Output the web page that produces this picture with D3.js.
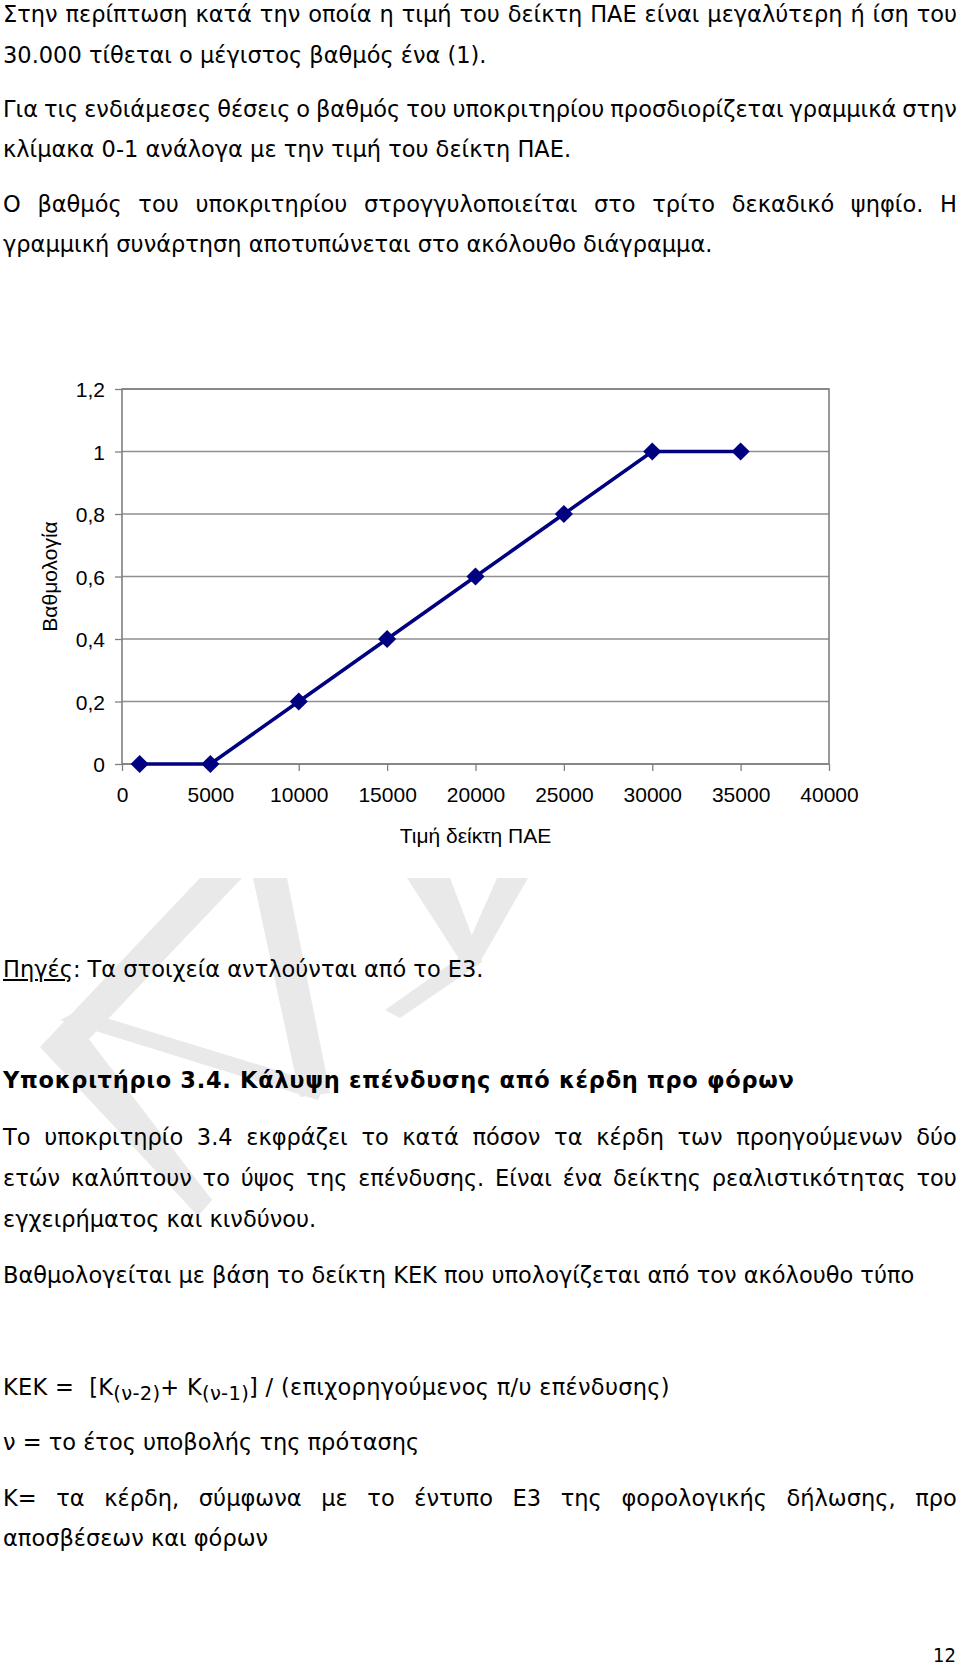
<!DOCTYPE html>
<html>
<head>
  <meta charset="utf-8">
  <script src="https://cdn.jsdelivr.net/npm/d3@7"></script>
  <style>
html, body {
  margin: 0;
  padding: 0;
  background: #fff;
}

#page {
  position: relative;
  width: 960px;
  height: 1669px;
  overflow: hidden;
}

#chart {
  position: absolute;
  left: 0;
  top: 0;
}

.line {
  position: absolute;
  left: 3px;
  width: 954px;
  font: 22.5px "DejaVu Sans", Verdana, sans-serif;
  line-height: 22px;
  color: #000;
  white-space: nowrap;
}

.line.just {
  display: flex;
  justify-content: space-between;
}

.line.bold {
  font-weight: bold;
  letter-spacing: 0.7px;
}

.line.formula {
  letter-spacing: 0.3px;
}

.line sub {
  font-size: 19.5px;
  vertical-align: -5px;
  line-height: 0;
}

#pagenum {
  position: absolute;
  right: 4px;
  font: 20px "DejaVu Sans Condensed", "DejaVu Sans", sans-serif;
  line-height: 14px;
}

.axis text {
  font: 21px "Liberation Sans", Arial, sans-serif;
  fill: #000;
}

.axis path {
  display: none;
}

.axis line {
  stroke: #808080;
  stroke-width: 1.3;
}
  </style>
</head>
<body>
  <div id="page">
    <svg id="chart" width="960" height="1669"></svg>
  </div>
  <script>
// Score curve: Τιμή δείκτη ΠΑΕ -> Βαθμολογία
var paeValues = [1000, 5000, 10000, 15000, 20000, 25000, 30000, 35000];
var scores = [0, 0, 0.2, 0.4, 0.6, 0.8, 1, 1];

var xTicks = [0, 5000, 10000, 15000, 20000, 25000, 30000, 35000, 40000];
var yTicks = [0, 0.2, 0.4, 0.6, 0.8, 1, 1.2];

var xTitle = "Τιμή δείκτη ΠΑΕ";
var yTitle = "Βαθμολογία";

// Page text, line by line (baseline y in px)
var textLines = [
  {y: 22, cls: "just", html: "Στην περίπτωση κατά την οποία η τιμή του δείκτη ΠΑΕ είναι μεγαλύτερη ή ίση του"},
  {y: 63, cls: "", html: "30.000 τίθεται ο μέγιστος βαθμός ένα (1)."},
  {y: 117, cls: "just", html: "Για τις ενδιάμεσες θέσεις ο βαθμός του υποκριτηρίου προσδιορίζεται γραμμικά στην"},
  {y: 157, cls: "", html: "κλίμακα 0-1 ανάλογα με την τιμή του δείκτη ΠΑΕ."},
  {y: 212, cls: "just", html: "Ο βαθμός του υποκριτηρίου στρογγυλοποιείται στο τρίτο δεκαδικό ψηφίο. Η"},
  {y: 252, cls: "", html: "γραμμική συνάρτηση αποτυπώνεται στο ακόλουθο διάγραμμα."},
  {y: 977, cls: "", html: "<u>Πηγές</u>: Τα στοιχεία αντλούνται από το Ε3."},
  {y: 1088, cls: "bold", html: "Υποκριτήριο 3.4. Κάλυψη επένδυσης από κέρδη προ φόρων"},
  {y: 1145, cls: "just", html: "Το υποκριτηρίο 3.4 εκφράζει το κατά πόσον τα κέρδη των προηγούμενων δύο"},
  {y: 1186, cls: "just", html: "ετών καλύπτουν το ύψος της επένδυσης. Είναι ένα δείκτης ρεαλιστικότητας του"},
  {y: 1227, cls: "", html: "εγχειρήματος και κινδύνου."},
  {y: 1283, cls: "", html: "Βαθμολογείται με βάση το δείκτη ΚΕΚ που υπολογίζεται από τον ακόλουθο τύπο"},
  {y: 1395, cls: "formula", html: "ΚΕΚ = &nbsp;[Κ<sub>(ν-2)</sub>+ Κ<sub>(ν-1)</sub>] / (επιχορηγούμενος π/υ επένδυσης)"},
  {y: 1450, cls: "", html: "ν = το έτος υποβολής της πρότασης"},
  {y: 1506, cls: "just", html: "Κ= τα κέρδη, σύμφωνα με το έντυπο Ε3 της φορολογικής δήλωσης, προ"},
  {y: 1546, cls: "", html: "αποσβέσεων και φόρων"}
];
var pageNumber = "12";

var svg = d3.select("#chart");
var page = d3.select("#page");

// Faint watermark behind the text
var watermark = [
  [[200, 878], [242, 878], [88, 1040], [40, 1047]],
  [[40, 1047], [88, 1038], [212, 1200], [198, 1216]],
  [[60, 1020], [80, 1010], [325, 1085], [318, 1100]],
  [[253, 878], [287, 878], [330, 1093], [300, 1097]],
  [[407, 878], [450, 878], [482, 962], [465, 968]],
  [[497, 878], [528, 878], [480, 962], [463, 955]],
  [[463, 955], [482, 962], [400, 1018], [385, 1010]]
];
svg.append("g")
  .selectAll("polygon")
  .data(watermark)
  .enter().append("polygon")
    .attr("points", function(d) { return d.map(function(p) { return p.join(","); }).join(" "); })
    .attr("fill", "#e9e9e9");

// Chart
var margin = {left: 122, right: 829, top: 389, bottom: 764};
var x = d3.scaleLinear().domain([0, 40000]).range([margin.left, margin.right]);
var y = d3.scaleLinear().domain([0, 1.2]).range([margin.bottom, margin.top]);

var grLocale = d3.formatLocale({decimal: ",", thousands: ".", grouping: [3], currency: ["", ""]});
var yFormat = grLocale.format(".1~f");
var xFormat = d3.format("d");

// Gridlines
svg.append("g")
  .attr("class", "grid")
  .selectAll("line")
  .data(yTicks)
  .enter().append("line")
    .attr("x1", margin.left)
    .attr("x2", margin.right)
    .attr("y1", function(d) { return y(d); })
    .attr("y2", function(d) { return y(d); })
    .attr("stroke", "#8f8f8f")
    .attr("stroke-width", 1.3);

// Plot frame
svg.append("rect")
  .attr("x", margin.left)
  .attr("y", margin.top)
  .attr("width", margin.right - margin.left)
  .attr("height", margin.bottom - margin.top)
  .attr("fill", "none")
  .attr("stroke", "#7f7f7f")
  .attr("stroke-width", 1.6);

var yAxis = svg.append("g")
  .attr("class", "axis")
  .attr("transform", "translate(" + margin.left + ",0)")
  .call(d3.axisLeft(y).tickValues(yTicks).tickSize(7).tickPadding(10).tickFormat(yFormat));

var xAxis = svg.append("g")
  .attr("class", "axis")
  .attr("transform", "translate(0," + margin.bottom + ")")
  .call(d3.axisBottom(x).tickValues(xTicks).tickSize(7).tickPadding(16).tickFormat(xFormat));

yAxis.selectAll("text").attr("dy", "0.36em");

svg.append("text")
  .attr("x", (margin.left + margin.right) / 2)
  .attr("y", 843)
  .attr("text-anchor", "middle")
  .style("font", "21px 'Liberation Sans', Arial, sans-serif")
  .text(xTitle);

svg.append("text")
  .attr("transform", "translate(57," + (margin.top + margin.bottom) / 2 + ") rotate(-90)")
  .attr("text-anchor", "middle")
  .style("font", "21px 'Liberation Sans', Arial, sans-serif")
  .text(yTitle);

// Series
var points = paeValues.map(function(v, i) { return [v, scores[i]]; });

svg.append("path")
  .datum(points)
  .attr("fill", "none")
  .attr("stroke", "#000080")
  .attr("stroke-width", 3.5)
  .attr("d", d3.line()
    .x(function(d) { return x(d[0]); })
    .y(function(d) { return y(d[1]); }));

svg.append("g")
  .selectAll("path")
  .data(points)
  .enter().append("path")
    .attr("transform", function(d) { return "translate(" + x(d[0]) + "," + y(d[1]) + ") rotate(45)"; })
    .attr("d", d3.symbol().type(d3.symbolSquare).size(165))
    .attr("fill", "#000080");

// Text lines; justified lines spread their words across the full width
var lines = page.selectAll("div.line")
  .data(textLines)
  .enter().append("div")
    .attr("class", function(d) { return "line " + d.cls; })
    .style("top", function(d) { return (d.y - 19) + "px"; });

lines.filter(function(d) { return d.cls !== "just"; })
  .html(function(d) { return d.html; });

lines.filter(function(d) { return d.cls === "just"; })
  .selectAll("span")
  .data(function(d) { return d.html.split(" "); })
  .enter().append("span")
    .text(function(w) { return w; });

page.append("div")
  .attr("id", "pagenum")
  .style("top", (1662 - 14) + "px")
  .text(pageNumber);
  </script>
</body>
</html>
